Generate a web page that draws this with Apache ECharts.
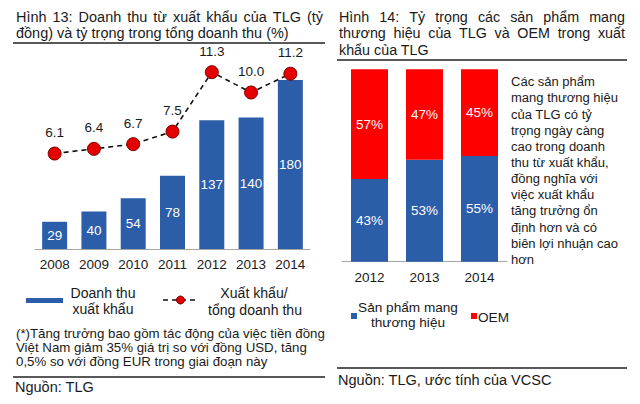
<!DOCTYPE html>
<html>
<head>
<meta charset="utf-8">
<script src="https://cdn.jsdelivr.net/npm/echarts@6/dist/echarts.min.js"></script>
<style>html,body{margin:0;padding:0;background:#fff}#c{width:640px;height:404px}</style>
</head>
<body>
<div id="c"></div>
<script>
// ---- Data ----
const years1 = ['2008', '2009', '2010', '2011', '2012', '2013', '2014'];
const exportRevenue = [29, 40, 54, 78, 137, 140, 180];
const exportShare = [6.1, 6.4, 6.7, 7.5, 11.3, 10.0, 11.2];
const years2 = ['2012', '2013', '2014'];
const brandedShare = [43, 53, 55];
const oemShare = [57, 47, 45];

const title1 = ['Hình 13: Doanh thu từ xuất khẩu của TLG (tỷ', 'đồng) và tỷ trọng trong tổng doanh thu (%)'];
const title2 = ['Hình 14: Tỷ trọng các sản phẩm mang', 'thương hiệu của TLG và OEM trong xuất', 'khẩu của TLG'];
const note1 = ['(*)Tăng trưởng bao gồm tác động của việc tiền đồng', 'Việt Nam giảm 35% giá trị so với đồng USD, tăng', '0,5% so với đồng EUR trong giai đoạn này'];
const para = ['Các sản phẩm', 'mang thương hiệu', 'của TLG có tỷ', 'trọng ngày càng', 'cao trong doanh', 'thu từ xuất khẩu,', 'đồng nghĩa với', 'việc xuất khẩu', 'tăng trưởng ổn', 'định hơn và có', 'biên lợi nhuận cao', 'hơn'];
const source1 = 'Nguồn: TLG';
const source2 = 'Nguồn: TLG, ước tính của VCSC';
const legendBar = ['Doanh thu', 'xuất khẩu'];
const legendLine = ['Xuất khẩu/', 'tổng doanh thu'];
const legendBranded = ['Sản phẩm mang', 'thương hiệu'];
const legendOem = 'OEM';

// ---- Helpers ----
const FF = '"Liberation Sans", Arial, sans-serif';
const BLUE = '#2C5DA9';
const RED = '#FF0000';
const TXT = '#1a1a1a';
const LBL = 13.5;
const mctx = document.createElement('canvas').getContext('2d');
function measure(t, size) { mctx.font = size + 'px ' + FF; return mctx.measureText(t).width; }
function fit(t, w) { return 14 * w / measure(t, 14); }
function txt(t, x, y, size, opts) {
  opts = opts || {};
  return { type: 'text', x: x, y: y, silent: true,
    style: { text: t, fontSize: size, fontFamily: FF, fill: opts.fill || TXT,
      align: opts.align || 'left', verticalAlign: 'middle' } };
}
function justify(t, x0, x1, y, size) {
  const words = t.split(' ');
  const ws = words.map(w => measure(w, size));
  const total = ws.reduce((a, b) => a + b, 0);
  const gap = (x1 - x0 - total) / (words.length - 1);
  let x = x0; const out = [];
  words.forEach((w, i) => { out.push(txt(w, x, y, size)); x += ws[i] + gap; });
  return out;
}
function rule(x1, x2, y) {
  return { type: 'line', silent: true, shape: { x1: x1, y1: y, x2: x2, y2: y }, style: { stroke: '#222', lineWidth: 1.6 } };
}

const g = [];
// left title
const tSize1 = fit(title1[1], 273);
g.push(...justify(title1[0], 16, 323, 17, tSize1));
g.push(txt(title1[1], 16, 33, tSize1));
g.push(rule(13, 325, 43));
// right title
const tSize2 = fit(title2[2], 90);
g.push(...justify(title2[0], 339, 625, 17, tSize2));
g.push(...justify(title2[1], 339, 625, 33, tSize2));
g.push(txt(title2[2], 339, 50, tSize2));
g.push(rule(337, 627, 60));
// left legend
const lgSize = fit(legendLine[1], 94);
g.push({ type: 'rect', silent: true, shape: { x: 26, y: 298, width: 37, height: 5 }, style: { fill: BLUE } });
g.push(txt(legendBar[0], 103, 293, lgSize, { align: 'center' }));
g.push(txt(legendBar[1], 103, 309, lgSize, { align: 'center' }));
g.push({ type: 'line', silent: true, shape: { x1: 163, y1: 300, x2: 198, y2: 300 }, style: { stroke: '#111', lineWidth: 1.6, lineDash: [5, 4] } });
g.push({ type: 'circle', silent: true, shape: { cx: 180.5, cy: 300, r: 4 }, style: { fill: '#E50000', stroke: '#7A0000', lineWidth: 1 } });
g.push(txt(legendLine[0], 254, 293, lgSize, { align: 'center' }));
g.push(txt(legendLine[1], 255, 310, lgSize, { align: 'center' }));
// footnote
const nSize = fit(note1[0], 309);
note1.forEach((l, i) => g.push(txt(l, 16, 333 + i * 14, nSize)));
g.push(rule(13, 325, 377));
g.push(txt(source1, 15, 387, fit(source1, 79)));
// right legend
const rlSize = fit(legendBranded[0], 100);
g.push({ type: 'rect', silent: true, shape: { x: 351, y: 313, width: 6, height: 6 }, style: { fill: BLUE } });
g.push(txt(legendBranded[0], 408, 307, rlSize, { align: 'center' }));
g.push(txt(legendBranded[1], 408, 322, rlSize, { align: 'center' }));
g.push({ type: 'rect', silent: true, shape: { x: 471, y: 313, width: 6, height: 6 }, style: { fill: RED } });
g.push(txt(legendOem, 478, 317, rlSize));
// paragraph
const pSize = fit(para[10], 107);
para.forEach((l, i) => g.push(txt(l, 511, 81.7 + i * 16.15, pSize)));
// right source
g.push(rule(337, 627, 368));
g.push(txt(source2, 338, 380, fit(source2, 214)));

const chart = echarts.init(document.getElementById('c'), null, { renderer: 'svg' });
const axisLbl = { color: TXT, fontSize: LBL, fontFamily: FF };
chart.setOption({
  animation: false,
  backgroundColor: '#fff',
  grid: [
    { left: 35, right: 330, top: 61.2, bottom: 155 },
    { left: 342, right: 133, top: 69.3, bottom: 142.3 }
  ],
  xAxis: [
    { type: 'category', gridIndex: 0, data: years1, axisTick: { show: false },
      axisLine: { lineStyle: { color: '#a6a6a6', width: 1 } }, axisLabel: Object.assign({ margin: 8 }, axisLbl) },
    { type: 'category', gridIndex: 1, data: years2, axisTick: { show: false },
      axisLine: { lineStyle: { color: '#a6a6a6', width: 1 } }, axisLabel: Object.assign({ margin: 9 }, axisLbl) }
  ],
  yAxis: [
    { type: 'value', gridIndex: 0, min: 0, max: 200, show: false, splitLine: { show: false } },
    { type: 'value', gridIndex: 0, min: 0, max: 12, show: false, splitLine: { show: false } },
    { type: 'value', gridIndex: 1, min: 0, max: 100, show: false, splitLine: { show: false } }
  ],
  series: [
    { name: 'Doanh thu xuất khẩu', type: 'bar', xAxisIndex: 0, yAxisIndex: 0, data: exportRevenue,
      barWidth: 25, itemStyle: { color: BLUE },
      label: { show: true, position: 'inside', color: '#fff', fontSize: LBL, fontFamily: FF } },
    { name: 'Xuất khẩu/tổng doanh thu', type: 'line', xAxisIndex: 0, yAxisIndex: 1, data: exportShare,
      symbol: 'circle', symbolSize: 13, z: 5,
      lineStyle: { color: '#111', width: 1.6, type: [5, 4] },
      itemStyle: { color: '#E50000', borderColor: '#7A0000', borderWidth: 1 },
      label: { show: true, position: 'top', distance: 7, color: TXT, fontSize: LBL, fontFamily: FF,
        formatter: p => p.value.toFixed(1) } },
    { name: 'Sản phẩm mang thương hiệu', type: 'bar', stack: 's', xAxisIndex: 1, yAxisIndex: 2, data: brandedShare,
      barWidth: 37, itemStyle: { color: BLUE },
      label: { show: true, position: 'inside', color: '#fff', fontSize: LBL, fontFamily: FF, formatter: '{c}%' } },
    { name: 'OEM', type: 'bar', stack: 's', xAxisIndex: 1, yAxisIndex: 2, data: oemShare,
      barWidth: 37, itemStyle: { color: RED },
      label: { show: true, position: 'inside', color: '#fff', fontSize: LBL, fontFamily: FF, formatter: '{c}%' } }
  ],
  graphic: g
});
</script>
</body>
</html>
